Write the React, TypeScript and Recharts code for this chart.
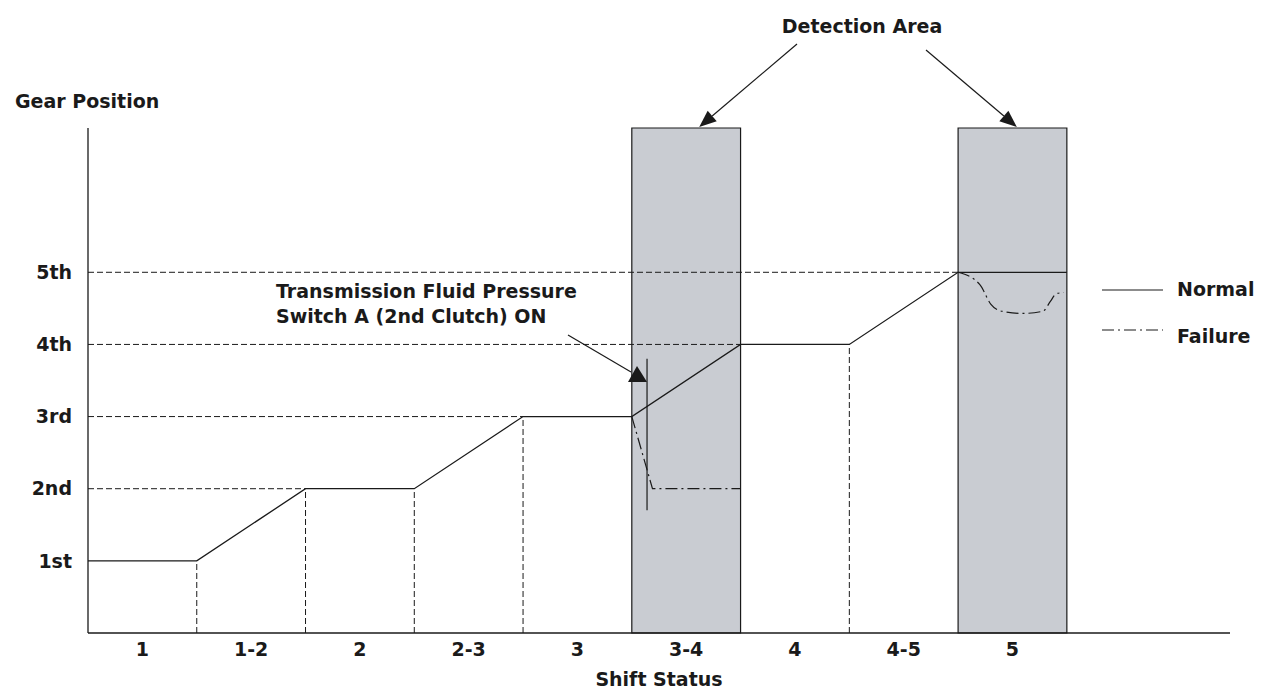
import React from "react";
import {
  ComposedChart,
  Line,
  XAxis,
  YAxis,
  ReferenceArea,
  ReferenceLine,
} from "recharts";

// categories along the bottom, one band each
const shiftStatus = ["1", "1-2", "2", "2-3", "3", "3-4", "4", "4-5", "5"];
const gearLabels = ["1st", "2nd", "3rd", "4th", "5th"];

// normal gear trace, one value per band edge (0..9)
const normalGear = [1, 1, 2, 2, 3, 3, 4, 4, 5, 5];

// failure trace in the 3-4 shift
const failureShiftX = [5, 5.19, 6];
const failureShiftGear = [3, 2, 2];

// failure trace in 5th
const failureFifthX = [8, 8.2, 8.3, 8.4, 8.6, 8.78, 8.85, 8.9, 8.97];
const failureFifthGear = [5, 4.83, 4.56, 4.46, 4.43, 4.46, 4.6, 4.7, 4.72];

// detection windows (band index)
const detectionBands = [5, 8];
// pressure switch ON marker
const switchOnX = 5.14;
const switchOnRange = [1.7, 3.8];

const normalData = normalGear.map((g, i) => ({ x: i, gear: g }));
const failureShiftData = failureShiftX.map((x, i) => ({ x, gear: failureShiftGear[i] }));
const failureFifthData = failureFifthX.map((x, i) => ({ x, gear: failureFifthGear[i] }));

const W = 1272;
const H = 700;
const PLOT_LEFT = 88;
const PLOT_RIGHT = 1230;
const PLOT_TOP = 128;
const PLOT_BOTTOM = 633;
const X_MAX = 10.5;
const Y_MAX = 7;
const xPx = (v: number) => PLOT_LEFT + (v / X_MAX) * (PLOT_RIGHT - PLOT_LEFT);
const yPx = (v: number) => PLOT_BOTTOM - (v / Y_MAX) * (PLOT_BOTTOM - PLOT_TOP);

const FONT = "'DejaVu Sans', Arial, sans-serif";
const FS = 19;
const INK = "#1a1a1a";
const DASH = "6 3";
const DASH_DOT = "12 4 2 4";

// first edge where the normal trace reaches each gear
const firstReach = gearLabels.map((_, i) => normalGear.indexOf(i + 1));

// band edges outside detection windows get a dashed drop line
const dropEdges = normalGear
  .map((g, i) => ({ x: i, g }))
  .filter((e) => e.x > 0 && e.x < normalGear.length - 1)
  .filter((e) => !detectionBands.some((b) => e.x === b || e.x === b + 1));

const XTick = ({ x, y, payload }: any) => (
  <text
    x={x}
    y={y + 16}
    dy="0.35em"
    textAnchor="middle"
    fontFamily={FONT}
    fontWeight="bold"
    fontSize={FS}
    fill={INK}
  >
    {shiftStatus[Math.floor(payload.value)]}
  </text>
);

const YTick = ({ x, y, payload }: any) => (
  <text
    x={x - 16}
    y={y}
    dy="0.35em"
    textAnchor="end"
    fontFamily={FONT}
    fontWeight="bold"
    fontSize={FS}
    fill={INK}
  >
    {gearLabels[payload.value - 1]}
  </text>
);

function Arrow({ x1, y1, x2, y2 }: { x1: number; y1: number; x2: number; y2: number }) {
  const a = Math.atan2(y2 - y1, x2 - x1);
  const len = 17;
  const half = 7;
  const bx = x2 - len * Math.cos(a);
  const by = y2 - len * Math.sin(a);
  const p1 = `${bx + half * Math.sin(a)},${by - half * Math.cos(a)}`;
  const p2 = `${bx - half * Math.sin(a)},${by + half * Math.cos(a)}`;
  return (
    <g>
      <line x1={x1} y1={y1} x2={bx} y2={by} stroke={INK} strokeWidth={1.2} />
      <polygon points={`${x2},${y2} ${p1} ${p2}`} fill={INK} />
    </g>
  );
}

function Overlay() {
  const txt = { fontFamily: FONT, fontWeight: "bold" as const, fontSize: FS, fill: INK };
  return (
    <svg
      width={W}
      height={H}
      style={{ position: "absolute", left: 0, top: 0, pointerEvents: "none" }}
    >
      <text x={15} y={108} {...txt}>Gear Position</text>
      <text x={862} y={33} textAnchor="middle" {...txt}>Detection Area</text>
      <Arrow x1={797} y1={44} x2={xPx(detectionBands[0] + 0.62)} y2={yPx(Y_MAX) - 1} />
      <Arrow x1={926} y1={50} x2={xPx(detectionBands[1] + 0.54)} y2={yPx(Y_MAX) - 1} />

      <text x={276} y={298} {...txt}>Transmission Fluid Pressure</text>
      <text x={276} y={323} {...txt}>Switch A (2nd Clutch) ON</text>
      <line x1={568} y1={335} x2={631} y2={372} stroke={INK} strokeWidth={1.2} />
      <polygon points="637,366 628,382 647,382" fill={INK} />

      <line x1={1102} y1={290} x2={1163} y2={290} stroke={INK} strokeWidth={1.2} />
      <text x={1177} y={296} {...txt}>Normal</text>
      <line
        x1={1102}
        y1={330}
        x2={1163}
        y2={330}
        stroke={INK}
        strokeWidth={1.2}
        strokeDasharray={DASH_DOT}
      />
      <text x={1177} y={343} {...txt}>Failure</text>
    </svg>
  );
}

export default function App() {
  return (
    <div style={{ position: "absolute", left: 0, top: 0, width: W, height: H, background: "#fff" }}>
      <ComposedChart
        width={W}
        height={H}
        margin={{ top: PLOT_TOP, right: W - PLOT_RIGHT, left: 8, bottom: 0 }}
      >
        <XAxis
          type="number"
          dataKey="x"
          domain={[0, X_MAX]}
          ticks={shiftStatus.map((_, i) => i + 0.5)}
          tick={<XTick />}
          tickLine={false}
          tickSize={0}
          tickMargin={0}
          height={H - PLOT_BOTTOM}
          axisLine={{ stroke: INK, strokeWidth: 1.5 }}
          allowDataOverflow
          label={{
            value: "Shift Status",
            position: "insideBottom",
            offset: 14,
            fontFamily: FONT,
            fontWeight: "bold",
            fontSize: FS,
            fill: INK,
          }}
        />
        <YAxis
          type="number"
          domain={[0, Y_MAX]}
          ticks={gearLabels.map((_, i) => i + 1)}
          tick={<YTick />}
          tickLine={false}
          tickSize={0}
          tickMargin={0}
          width={PLOT_LEFT - 8}
          axisLine={{ stroke: INK, strokeWidth: 1.3 }}
          allowDataOverflow
        />

        {detectionBands.map((b) => (
          <ReferenceArea
            key={`area-${b}`}
            x1={b}
            x2={b + 1}
            y1={0}
            y2={Y_MAX}
            fill="#c9ccd2"
            fillOpacity={1}
            stroke={INK}
            strokeWidth={1.2}
          />
        ))}

        {firstReach.map((edge, i) =>
          edge > 0 ? (
            <ReferenceLine
              key={`h-${i}`}
              segment={[
                { x: 0, y: i + 1 },
                { x: edge, y: i + 1 },
              ]}
              stroke={INK}
              strokeWidth={1}
              strokeDasharray={DASH}
            />
          ) : null
        )}
        {dropEdges.map((e) => (
          <ReferenceLine
            key={`v-${e.x}`}
            segment={[
              { x: e.x, y: 0 },
              { x: e.x, y: e.g },
            ]}
            stroke={INK}
            strokeWidth={1}
            strokeDasharray={DASH}
          />
        ))}
        <ReferenceLine
          segment={[
            { x: switchOnX, y: switchOnRange[0] },
            { x: switchOnX, y: switchOnRange[1] },
          ]}
          stroke={INK}
          strokeWidth={1.2}
        />

        <Line
          data={normalData}
          dataKey="gear"
          type="linear"
          stroke={INK}
          strokeWidth={1.3}
          dot={false}
          isAnimationActive={false}
        />
        <Line
          data={failureShiftData}
          dataKey="gear"
          type="linear"
          stroke={INK}
          strokeWidth={1.2}
          strokeDasharray={DASH_DOT}
          dot={false}
          isAnimationActive={false}
        />
        <Line
          data={failureFifthData}
          dataKey="gear"
          type="monotone"
          stroke={INK}
          strokeWidth={1.2}
          strokeDasharray={DASH_DOT}
          dot={false}
          isAnimationActive={false}
        />
      </ComposedChart>
      <Overlay />
    </div>
  );
}
